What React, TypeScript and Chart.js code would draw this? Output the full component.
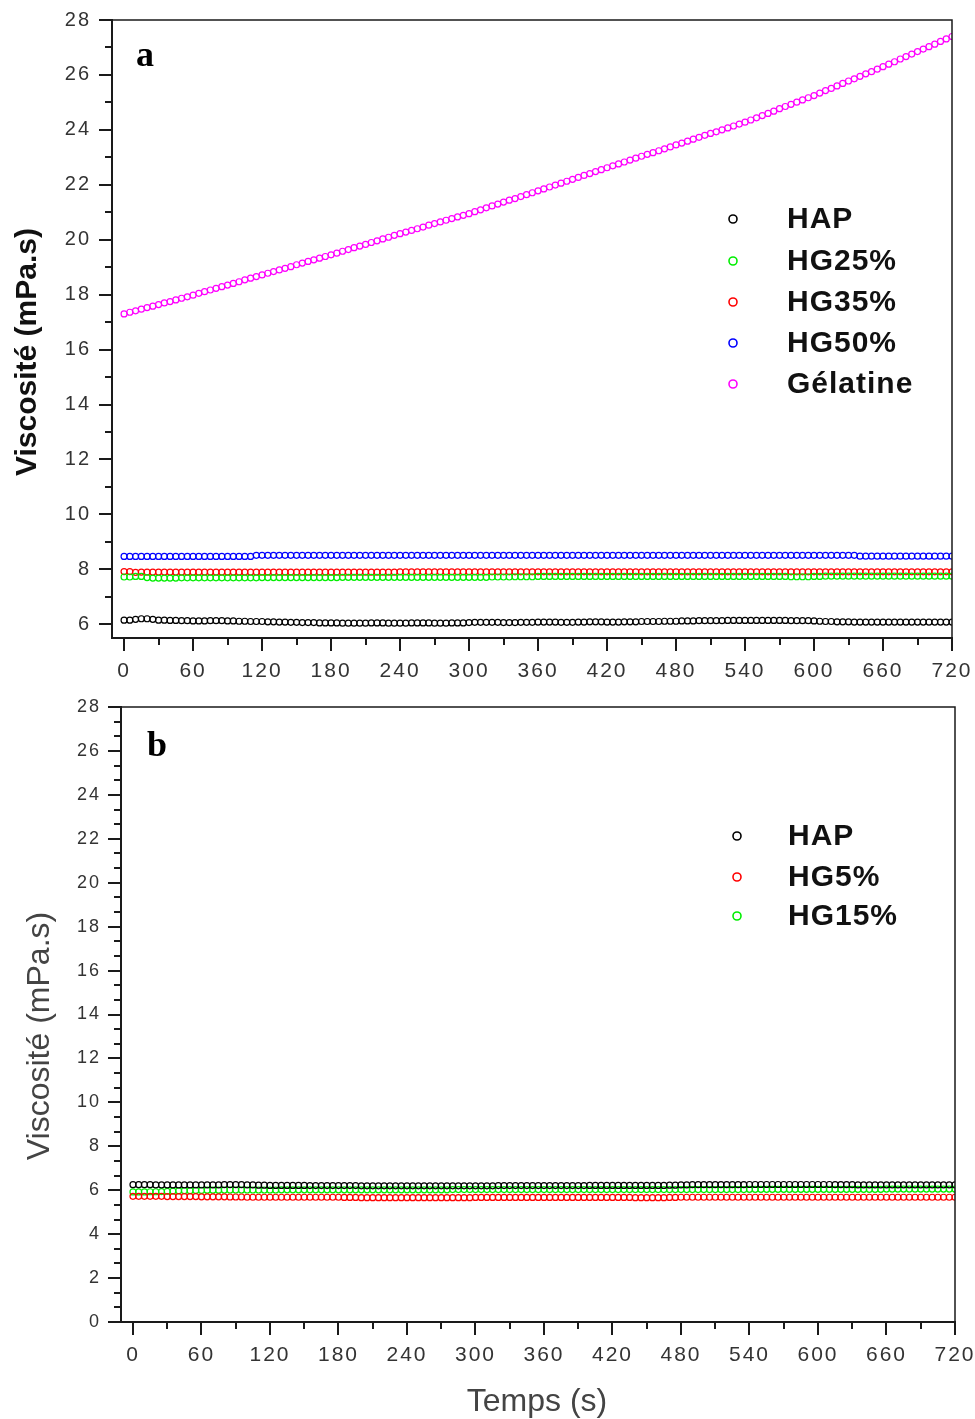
import React, { useEffect, useRef } from "react";
import { Chart, registerables } from "chart.js";

Chart.register(...registerables);

// ---------- data ----------
const times = [0,5,10,15,20,25,30,35,40,45,50,55,60,65,70,75,80,85,90,95,100,105,110,115,120,125,130,135,140,145,150,155,160,165,170,175,180,185,190,195,200,205,210,215,220,225,230,235,240,245,250,255,260,265,270,275,280,285,290,295,300,305,310,315,320,325,330,335,340,345,350,355,360,365,370,375,380,385,390,395,400,405,410,415,420,425,430,435,440,445,450,455,460,465,470,475,480,485,490,495,500,505,510,515,520,525,530,535,540,545,550,555,560,565,570,575,580,585,590,595,600,605,610,615,620,625,630,635,640,645,650,655,660,665,670,675,680,685,690,695,700,705,710,715,720];

// Panel a
const hapA = [
6.15,6.15,6.18,6.20,6.20,6.18,6.15,6.15,6.14,6.14,6.13,6.13,
6.12,6.12,6.12,6.13,6.13,6.13,6.12,6.12,6.11,6.11,6.10,6.10,
6.10,6.09,6.09,6.08,6.08,6.07,6.07,6.06,6.06,6.06,6.05,6.05,
6.05,6.05,6.04,6.04,6.04,6.04,6.04,6.05,6.05,6.05,6.04,6.04,
6.04,6.04,6.05,6.05,6.05,6.05,6.04,6.04,6.04,6.05,6.05,6.05,
6.06,6.07,6.07,6.07,6.07,6.07,6.06,6.06,6.06,6.07,6.07,6.07,
6.08,6.08,6.08,6.08,6.07,6.07,6.07,6.08,6.08,6.09,6.09,6.09,
6.08,6.08,6.08,6.09,6.09,6.09,6.10,6.10,6.10,6.10,6.11,6.11,
6.11,6.12,6.12,6.12,6.13,6.13,6.13,6.13,6.13,6.14,6.14,6.14,
6.14,6.14,6.14,6.14,6.14,6.14,6.14,6.14,6.13,6.13,6.13,6.13,
6.12,6.11,6.10,6.10,6.09,6.09,6.09,6.08,6.08,6.08,6.08,6.08,
6.08,6.08,6.08,6.08,6.08,6.08,6.08,6.08,6.08,6.08,6.08,6.08,
6.08];

const hg25A = [
7.72,7.72,7.74,7.74,7.70,7.68,7.68,7.68,7.68,7.68,7.69,7.69,
7.69,7.69,7.69,7.69,7.69,7.69,7.69,7.69,7.69,7.69,7.69,7.69,
7.70,7.70,7.70,7.70,7.70,7.70,7.70,7.70,7.70,7.70,7.70,7.70,
7.70,7.70,7.71,7.71,7.71,7.71,7.71,7.71,7.71,7.71,7.71,7.71,
7.71,7.71,7.71,7.71,7.71,7.71,7.71,7.71,7.71,7.71,7.71,7.71,
7.71,7.71,7.71,7.71,7.72,7.72,7.72,7.72,7.73,7.73,7.73,7.73,
7.74,7.74,7.74,7.74,7.74,7.74,7.74,7.74,7.74,7.74,7.74,7.74,
7.74,7.74,7.74,7.74,7.74,7.74,7.74,7.74,7.74,7.74,7.74,7.74,
7.74,7.74,7.74,7.74,7.74,7.74,7.74,7.74,7.74,7.74,7.74,7.74,
7.74,7.74,7.74,7.74,7.74,7.74,7.74,7.74,7.73,7.73,7.73,7.73,
7.74,7.74,7.75,7.75,7.75,7.75,7.75,7.75,7.75,7.75,7.75,7.75,
7.75,7.75,7.75,7.75,7.75,7.75,7.75,7.75,7.75,7.75,7.75,7.75,
7.75];

const hg35A = [
7.92,7.92,7.89,7.90,7.90,7.90,7.90,7.90,7.90,7.90,7.90,7.90,
7.90,7.90,7.90,7.90,7.90,7.90,7.90,7.90,7.90,7.90,7.90,7.90,
7.90,7.90,7.90,7.90,7.90,7.90,7.90,7.90,7.90,7.90,7.90,7.90,
7.90,7.90,7.90,7.90,7.90,7.90,7.90,7.90,7.90,7.90,7.90,7.90,
7.91,7.91,7.91,7.91,7.91,7.91,7.91,7.91,7.91,7.91,7.91,7.91,
7.91,7.91,7.91,7.91,7.91,7.91,7.91,7.91,7.91,7.91,7.91,7.91,
7.91,7.91,7.91,7.91,7.91,7.91,7.91,7.91,7.91,7.91,7.91,7.91,
7.91,7.91,7.91,7.91,7.91,7.91,7.91,7.91,7.91,7.91,7.91,7.91,
7.91,7.91,7.91,7.91,7.91,7.91,7.91,7.91,7.91,7.91,7.91,7.91,
7.91,7.91,7.91,7.91,7.91,7.91,7.91,7.91,7.91,7.91,7.91,7.91,
7.91,7.91,7.91,7.91,7.91,7.91,7.91,7.91,7.91,7.91,7.91,7.91,
7.91,7.91,7.91,7.91,7.91,7.91,7.91,7.91,7.91,7.91,7.91,7.91,
7.91];

const hg50A = [
8.47,8.47,8.47,8.47,8.47,8.47,8.47,8.47,8.47,8.47,8.47,8.47,
8.47,8.47,8.47,8.47,8.47,8.47,8.47,8.47,8.47,8.47,8.47,8.51,
8.51,8.51,8.51,8.51,8.51,8.51,8.51,8.51,8.51,8.51,8.51,8.51,
8.51,8.51,8.51,8.51,8.51,8.51,8.51,8.51,8.51,8.51,8.51,8.51,
8.51,8.51,8.51,8.51,8.51,8.51,8.51,8.51,8.51,8.51,8.51,8.51,
8.51,8.51,8.51,8.51,8.51,8.51,8.51,8.51,8.51,8.51,8.51,8.51,
8.51,8.51,8.51,8.51,8.51,8.51,8.51,8.51,8.51,8.51,8.51,8.51,
8.51,8.51,8.51,8.51,8.51,8.51,8.51,8.51,8.51,8.51,8.51,8.51,
8.51,8.51,8.51,8.51,8.51,8.51,8.51,8.51,8.51,8.51,8.51,8.51,
8.51,8.51,8.51,8.51,8.51,8.51,8.51,8.51,8.51,8.51,8.51,8.51,
8.51,8.51,8.51,8.51,8.51,8.51,8.51,8.51,8.48,8.48,8.48,8.48,
8.48,8.48,8.48,8.48,8.48,8.48,8.48,8.48,8.48,8.48,8.48,8.48,
8.48];

const gelatineA = [
17.30,17.36,17.41,17.47,17.53,17.58,17.64,17.70,17.75,17.81,17.87,17.92,
17.98,18.05,18.11,18.17,18.23,18.29,18.35,18.41,18.47,18.54,18.60,18.66,
18.72,18.78,18.84,18.90,18.96,19.02,19.09,19.15,19.21,19.27,19.33,19.39,
19.45,19.51,19.58,19.64,19.71,19.77,19.83,19.90,19.96,20.03,20.09,20.16,
20.22,20.28,20.34,20.40,20.46,20.53,20.59,20.65,20.71,20.77,20.83,20.89,
20.95,21.02,21.09,21.16,21.23,21.30,21.37,21.44,21.50,21.57,21.64,21.71,
21.78,21.85,21.92,21.99,22.06,22.13,22.20,22.27,22.34,22.41,22.48,22.55,
22.62,22.69,22.76,22.83,22.90,22.97,23.04,23.11,23.17,23.24,23.31,23.38,
23.45,23.52,23.59,23.66,23.73,23.80,23.87,23.93,24.00,24.07,24.14,24.21,
24.28,24.36,24.44,24.52,24.60,24.68,24.77,24.85,24.93,25.01,25.09,25.17,
25.25,25.34,25.43,25.51,25.60,25.69,25.78,25.86,25.95,26.04,26.12,26.21,
26.30,26.39,26.48,26.58,26.67,26.76,26.85,26.94,27.03,27.12,27.22,27.31,
27.40];

// Panel b
const hapB = [
6.25,6.25,6.25,6.25,6.24,6.24,6.24,6.24,6.24,6.24,6.24,6.24,
6.24,6.24,6.24,6.24,6.25,6.25,6.25,6.25,6.24,6.24,6.23,6.23,
6.22,6.22,6.22,6.22,6.22,6.22,6.22,6.21,6.21,6.21,6.21,6.21,
6.21,6.21,6.21,6.21,6.20,6.20,6.20,6.20,6.20,6.20,6.20,6.20,
6.20,6.20,6.20,6.20,6.20,6.20,6.20,6.20,6.20,6.20,6.20,6.20,
6.20,6.20,6.20,6.20,6.21,6.21,6.21,6.21,6.21,6.21,6.21,6.21,
6.21,6.21,6.21,6.21,6.21,6.21,6.21,6.21,6.22,6.22,6.22,6.22,
6.22,6.22,6.22,6.22,6.22,6.22,6.22,6.22,6.22,6.22,6.23,6.23,
6.24,6.24,6.25,6.25,6.25,6.25,6.25,6.25,6.25,6.25,6.25,6.25,
6.26,6.26,6.26,6.26,6.26,6.26,6.26,6.26,6.26,6.26,6.26,6.26,
6.26,6.26,6.26,6.25,6.25,6.25,6.25,6.24,6.24,6.24,6.24,6.24,
6.24,6.24,6.24,6.24,6.24,6.24,6.24,6.24,6.24,6.24,6.24,6.24,
6.24];

const hg5B = [
5.72,5.72,5.72,5.72,5.72,5.72,5.71,5.71,5.71,5.71,5.71,5.71,
5.70,5.70,5.70,5.70,5.70,5.69,5.69,5.69,5.68,5.68,5.68,5.68,
5.68,5.68,5.68,5.68,5.68,5.68,5.68,5.68,5.68,5.68,5.68,5.68,
5.68,5.67,5.67,5.67,5.66,5.66,5.66,5.66,5.66,5.66,5.66,5.66,
5.66,5.66,5.66,5.66,5.66,5.66,5.66,5.66,5.66,5.66,5.66,5.66,
5.67,5.67,5.67,5.67,5.67,5.67,5.67,5.67,5.67,5.67,5.67,5.67,
5.67,5.67,5.67,5.67,5.67,5.67,5.67,5.67,5.67,5.67,5.67,5.67,
5.67,5.67,5.67,5.67,5.66,5.66,5.66,5.66,5.66,5.66,5.67,5.67,
5.68,5.68,5.68,5.68,5.68,5.68,5.68,5.68,5.68,5.68,5.68,5.68,
5.68,5.68,5.68,5.68,5.68,5.68,5.68,5.68,5.68,5.68,5.68,5.68,
5.68,5.68,5.68,5.68,5.68,5.68,5.68,5.68,5.68,5.68,5.68,5.68,
5.68,5.68,5.68,5.68,5.68,5.68,5.68,5.68,5.68,5.68,5.68,5.68,
5.68];

const hg15B = [
5.92,5.92,5.92,5.93,5.93,5.94,5.95,5.96,5.97,5.98,5.98,5.99,
5.99,6.00,6.00,6.00,6.01,6.01,6.01,6.01,6.01,6.01,6.01,6.01,
6.01,6.01,6.02,6.02,6.02,6.02,6.02,6.02,6.02,6.02,6.02,6.02,
6.02,6.02,6.02,6.02,6.02,6.02,6.02,6.02,6.02,6.02,6.02,6.02,
6.02,6.02,6.02,6.02,6.02,6.02,6.02,6.02,6.03,6.03,6.03,6.03,
6.03,6.03,6.03,6.03,6.03,6.03,6.03,6.03,6.03,6.03,6.03,6.03,
6.03,6.03,6.03,6.03,6.03,6.03,6.03,6.03,6.03,6.03,6.03,6.03,
6.03,6.03,6.03,6.03,6.03,6.03,6.03,6.03,6.03,6.03,6.03,6.03,
6.03,6.03,6.03,6.03,6.03,6.03,6.03,6.03,6.03,6.03,6.03,6.03,
6.04,6.04,6.04,6.04,6.04,6.04,6.04,6.04,6.04,6.04,6.04,6.04,
6.04,6.04,6.04,6.04,6.04,6.04,6.04,6.04,6.04,6.04,6.04,6.04,
6.05,6.05,6.05,6.05,6.05,6.05,6.05,6.05,6.05,6.05,6.05,6.05,
6.05];

// Tick values
const xTicks = [0, 60, 120, 180, 240, 300, 360, 420, 480, 540, 600, 660, 720];
const xMinor = [30, 90, 150, 210, 270, 330, 390, 450, 510, 570, 630, 690];
const yTicksA = [6, 8, 10, 12, 14, 16, 18, 20, 22, 24, 26, 28];
const yMinorA = [7, 9, 11, 13, 15, 17, 19, 21, 23, 25, 27];
const yTicksB = [0, 2, 4, 6, 8, 10, 12, 14, 16, 18, 20, 22, 24, 26, 28];

const labelsA = ["HAP", "HG25%", "HG35%", "HG50%", "Gélatine"];
const colorsA = ["#000000", "#00ee00", "#ff0000", "#0000ff", "#ff00ff"];
const labelsB = ["HAP", "HG5%", "HG15%"];
const colorsB = ["#000000", "#ff0000", "#00ee00"];

const SANS = "'Liberation Sans', Arial, sans-serif";
const SERIF = "'Liberation Serif', 'Times New Roman', serif";
const AXIS = "#1a1a1a";

type PanelCfg = {
  width: number;
  height: number;
  area: { left: number; top: number; right: number; bottom: number };
  xMin: number;
  yMin: number;
  yMax: number;
  yTicks: number[];
  yMinor: number[];
  xTickSize: number;
  yTickSize: number;
  yPad: number;
  series: number[][];
  labels: string[];
  colors: string[];
  legend: { mx: number; tx: number; ys: number[]; font: string };
  letter: { text: string; x: number; y: number };
  yTitle: { text: string; x: number; y: number; font: string; color: string };
  xTitle?: { text: string; x: number; y: number; font: string; color: string };
};

function makeDecor(cfg: PanelCfg) {
  return {
    id: "decor",
    beforeDraw(chart: any) {
      (chart.ctx as any).letterSpacing = "2px";
    },
    afterDraw(chart: any) {
      const { ctx, chartArea: ca, scales } = chart;
      (ctx as any).letterSpacing = "0px";
      const xs = scales.x;
      const ys = scales.y;
      ctx.save();
      ctx.strokeStyle = AXIS;
      ctx.lineWidth = 2;
      ctx.beginPath();
      xMinor.forEach((v) => {
        const px = Math.round(xs.getPixelForValue(v));
        ctx.moveTo(px, ca.bottom);
        ctx.lineTo(px, ca.bottom + 7);
      });
      cfg.yMinor.forEach((v) => {
        const py = Math.round(ys.getPixelForValue(v));
        ctx.moveTo(ca.left, py);
        ctx.lineTo(ca.left - 7, py);
      });
      ctx.stroke();
      // frame
      ctx.lineWidth = 1.5;
      ctx.beginPath();
      ctx.moveTo(ca.left, ca.top);
      ctx.lineTo(ca.right, ca.top);
      ctx.lineTo(ca.right, ca.bottom);
      ctx.stroke();
      ctx.lineWidth = 2;
      ctx.beginPath();
      ctx.moveTo(ca.left, ca.top - 1);
      ctx.lineTo(ca.left, ca.bottom);
      ctx.lineTo(ca.right + 1, ca.bottom);
      ctx.stroke();
      // panel letter
      ctx.fillStyle = "#000";
      ctx.font = `bold 36px ${SERIF}`;
      ctx.textAlign = "left";
      ctx.textBaseline = "alphabetic";
      ctx.fillText(cfg.letter.text, cfg.letter.x, cfg.letter.y);
      // legend
      cfg.labels.forEach((lab, i) => {
        const y = cfg.legend.ys[i];
        ctx.strokeStyle = cfg.colors[i];
        ctx.lineWidth = 1.6;
        ctx.beginPath();
        ctx.arc(cfg.legend.mx, y, 4, 0, Math.PI * 2);
        ctx.stroke();
        ctx.fillStyle = "#111";
        ctx.font = cfg.legend.font;
        ctx.textBaseline = "middle";
        ctx.textAlign = "left";
        (ctx as any).letterSpacing = "1px";
        ctx.fillText(lab, cfg.legend.tx, y + 1);
        (ctx as any).letterSpacing = "0px";
      });
      // y title
      ctx.save();
      ctx.translate(cfg.yTitle.x, cfg.yTitle.y);
      ctx.rotate(-Math.PI / 2);
      ctx.font = cfg.yTitle.font;
      ctx.fillStyle = cfg.yTitle.color;
      ctx.textAlign = "center";
      ctx.textBaseline = "middle";
      ctx.fillText(cfg.yTitle.text, 0, 0);
      ctx.restore();
      if (cfg.xTitle) {
        ctx.font = cfg.xTitle.font;
        ctx.fillStyle = cfg.xTitle.color;
        ctx.textAlign = "center";
        ctx.textBaseline = "middle";
        ctx.fillText(cfg.xTitle.text, cfg.xTitle.x, cfg.xTitle.y);
      }
      ctx.restore();
    },
  };
}

function Panel({ cfg, top }: { cfg: PanelCfg; top: number }) {
  const ref = useRef<HTMLCanvasElement | null>(null);
  useEffect(() => {
    if (!ref.current) return;
    const a = cfg.area;
    const datasets = cfg.series.map((vals, i) => ({
      label: cfg.labels[i],
      data: times.map((t, j) => ({ x: t, y: vals[j] })),
      showLine: false,
      pointStyle: "circle",
      pointRadius: 3,
      pointBorderWidth: 1.2,
      borderColor: cfg.colors[i],
      backgroundColor: "rgba(0,0,0,0)",
      pointBackgroundColor: "rgba(0,0,0,0)",
      pointBorderColor: cfg.colors[i],
    }));
    const chart = new Chart(ref.current, {
      type: "scatter",
      data: { datasets } as any,
      options: {
        animation: false,
        responsive: false,
        devicePixelRatio: 1,
        layout: {
          padding: { top: a.top, right: cfg.width - a.right, left: 0, bottom: 0 },
        },
        plugins: { legend: { display: false }, tooltip: { enabled: false } },
        scales: {
          x: {
            type: "linear",
            min: cfg.xMin,
            max: 720,
            afterBuildTicks: (s: any) => {
              s.ticks = xTicks.map((v) => ({ value: v }));
            },
            afterFit: (s: any) => {
              s.height = cfg.height - a.bottom;
              s.paddingLeft = 0;
              s.paddingRight = 0;
            },
            grid: {
              display: true,
              drawOnChartArea: false,
              drawTicks: true,
              tickLength: 13,
              lineWidth: 2,
              color: AXIS,
            },
            border: { display: false },
            ticks: {
              autoSkip: false,
              maxRotation: 0,
              padding: 8,
              color: "#333",
              font: { family: SANS, size: cfg.xTickSize },
              callback: (v: any) => String(v),
            },
          },
          y: {
            type: "linear",
            min: cfg.yMin,
            max: cfg.yMax,
            afterBuildTicks: (s: any) => {
              s.ticks = cfg.yTicks.map((v) => ({ value: v }));
            },
            afterFit: (s: any) => {
              s.width = a.left;
              s.paddingTop = 0;
              s.paddingBottom = 0;
            },
            grid: {
              display: true,
              drawOnChartArea: false,
              drawTicks: true,
              tickLength: 13,
              lineWidth: 2,
              color: AXIS,
            },
            border: { display: false },
            ticks: {
              autoSkip: false,
              padding: cfg.yPad,
              color: "#333",
              font: { family: SANS, size: cfg.yTickSize },
              callback: (v: any) => String(v),
            },
          },
        },
      } as any,
      plugins: [makeDecor(cfg)],
    });
    return () => chart.destroy();
  }, [cfg]);
  return (
    <canvas
      ref={ref}
      width={cfg.width}
      height={cfg.height}
      style={{ position: "absolute", left: 0, top, width: cfg.width, height: cfg.height }}
    />
  );
}

const cfgA: PanelCfg = {
  width: 975,
  height: 690,
  area: { left: 112, top: 20, right: 952, bottom: 638 },
  xMin: -10.5,
  yMin: 5.5,
  yMax: 28,
  yTicks: yTicksA,
  yMinor: yMinorA,
  xTickSize: 21,
  yTickSize: 20,
  yPad: 8,
  series: [hapA, hg25A, hg35A, hg50A, gelatineA],
  labels: labelsA,
  colors: colorsA,
  legend: { mx: 733, tx: 787, ys: [219, 261, 302, 343, 384], font: `bold 30px ${SANS}` },
  letter: { text: "a", x: 136, y: 66 },
  yTitle: { text: "Viscosité (mPa.s)", x: 28, y: 352, font: `bold 30px ${SANS}`, color: "#111" },
};

const yMinorB = yTicksB.slice(0, -1).flatMap((v) => [v + 2 / 3, v + 4 / 3]);

const cfgB: PanelCfg = {
  width: 975,
  height: 729,
  area: { left: 121, top: 17, right: 955, bottom: 632 },
  xMin: -10.5,
  yMin: 0,
  yMax: 28,
  yTicks: yTicksB,
  yMinor: yMinorB,
  xTickSize: 21,
  yTickSize: 18,
  yPad: 7,
  series: [hapB, hg5B, hg15B],
  labels: labelsB,
  colors: colorsB,
  legend: { mx: 737, tx: 788, ys: [146, 187, 226], font: `bold 30px ${SANS}` },
  letter: { text: "b", x: 147, y: 66 },
  yTitle: { text: "Viscosité (mPa.s)", x: 40, y: 346, font: `32px ${SANS}`, color: "#444" },
  xTitle: { text: "Temps (s)", x: 537, y: 712, font: `32px ${SANS}`, color: "#444" },
};

export default function App() {
  return (
    <div
      style={{
        position: "absolute",
        left: 0,
        top: 0,
        width: 975,
        height: 1419,
        background: "#fff",
        overflow: "hidden",
      }}
    >
      <Panel cfg={cfgA} top={0} />
      <Panel cfg={cfgB} top={690} />
    </div>
  );
}
